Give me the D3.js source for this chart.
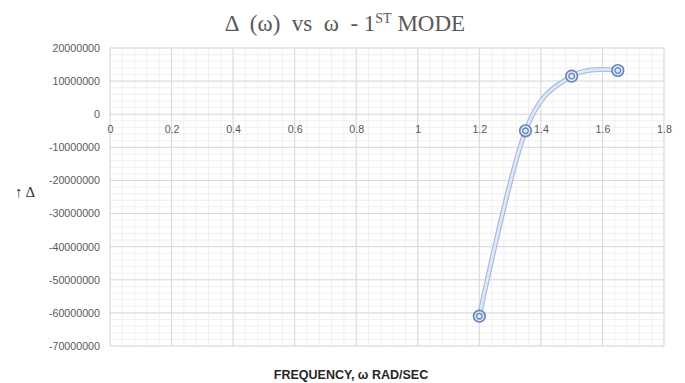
<!DOCTYPE html>
<html>
<head>
<meta charset="utf-8">
<script src="https://cdn.jsdelivr.net/npm/d3@7"></script>
<style>
  body { margin: 0; background: #fff; }
  svg { display: block; }
</style>
</head>
<body>
<svg id="chart"></svg>
<script>
// data
const freq = [1.2, 1.35, 1.5, 1.65];
const delta = [-61000000, -5000000, 11500000, 13200000];
const xTicks = [0, 0.2, 0.4, 0.6, 0.8, 1, 1.2, 1.4, 1.6, 1.8];
const yTicks = [20000000, 10000000, 0, -10000000, -20000000, -30000000, -40000000, -50000000, -60000000, -70000000];

const width = 685, height = 383;
const plot = { left: 110, right: 664, top: 48, bottom: 346 };

const svg = d3.select('#chart')
    .attr('width', width)
    .attr('height', height);

const x = d3.scaleLinear().domain([0, 1.8]).range([plot.left, plot.right]);
const y = d3.scaleLinear().domain([-70000000, 20000000]).range([plot.bottom, plot.top]);

// minor grid
const minorX = d3.range(0, 1.8001, 0.04);
const minorY = d3.range(-70000000, 20000001, 2000000);
svg.append('g')
    .selectAll('line')
    .data(minorX)
    .join('line')
    .attr('x1', d => x(d)).attr('x2', d => x(d))
    .attr('y1', plot.top).attr('y2', plot.bottom)
    .attr('stroke', '#f0f0f0');
svg.append('g')
    .selectAll('line')
    .data(minorY)
    .join('line')
    .attr('x1', plot.left).attr('x2', plot.right)
    .attr('y1', d => y(d)).attr('y2', d => y(d))
    .attr('stroke', '#f0f0f0');

// major grid
svg.append('g')
    .selectAll('line')
    .data(xTicks)
    .join('line')
    .attr('x1', d => x(d)).attr('x2', d => x(d))
    .attr('y1', plot.top).attr('y2', plot.bottom)
    .attr('stroke', '#d9d9d9');
svg.append('g')
    .selectAll('line')
    .data(yTicks)
    .join('line')
    .attr('x1', plot.left).attr('x2', plot.right)
    .attr('y1', d => y(d)).attr('y2', d => y(d))
    .attr('stroke', '#d9d9d9');

// plain hyphen minus like the original
const fmt = d => String(d);

// y axis labels
svg.append('g')
    .attr('transform', `translate(${plot.left}, 0)`)
    .call(d3.axisLeft(y).tickValues(yTicks).tickSize(0).tickPadding(10).tickFormat(fmt))
    .call(g => g.select('.domain').remove())
    .call(g => g.selectAll('text')
        .attr('fill', '#595959')
        .attr('font-family', 'Liberation Sans, Arial, sans-serif')
        .attr('font-size', 10.7));

// x axis labels, crossing at zero
svg.append('g')
    .attr('transform', `translate(0, ${y(0)})`)
    .call(d3.axisBottom(x).tickValues(xTicks).tickSize(0).tickPadding(11).tickFormat(fmt))
    .call(g => g.select('.domain').remove())
    .call(g => g.selectAll('text')
        .attr('fill', '#595959')
        .attr('font-family', 'Liberation Sans, Arial, sans-serif')
        .attr('font-size', 10.7));

// smoothed series
const pts = freq.map((f, i) => [f, delta[i]]);
const line = d3.line()
    .x(d => x(d[0]))
    .y(d => y(d[1]))
    .curve(d3.curveCardinal.tension(0));

svg.append('path')
    .datum(pts)
    .attr('d', line)
    .attr('fill', 'none')
    .attr('stroke', '#aabfe2')
    .attr('stroke-width', 5);
svg.append('path')
    .datum(pts)
    .attr('d', line)
    .attr('fill', 'none')
    .attr('stroke', '#e2e9f5')
    .attr('stroke-width', 2.4);

// markers
const marks = svg.append('g')
    .selectAll('g')
    .data(pts)
    .join('g')
    .attr('transform', d => `translate(${x(d[0])}, ${y(d[1])})`);
marks.append('circle')
    .attr('r', 5.8)
    .attr('fill', '#dfe7f3')
    .attr('stroke', '#6583b8')
    .attr('stroke-width', 1.6);
marks.append('circle')
    .attr('r', 2.8)
    .attr('fill', '#dfe7f3')
    .attr('stroke', '#6583b8')
    .attr('stroke-width', 1.3);

// title
const title = svg.append('text')
    .attr('x', 345)
    .attr('y', 31)
    .attr('text-anchor', 'middle')
    .attr('fill', '#595959')
    .attr('font-family', 'Liberation Serif, DejaVu Serif, serif')
    .attr('font-size', 23)
    .style('white-space', 'pre');
title.append('tspan').text('Δ  (ω)  vs  ω  - 1');
title.append('tspan').attr('font-size', 14).attr('dy', -8).text('ST');
title.append('tspan').attr('dy', 8).text(' MODE');

// y axis title
svg.append('text')
    .attr('x', 15)
    .attr('y', 197)
    .attr('fill', '#333')
    .attr('font-family', 'Liberation Serif, serif')
    .attr('font-size', 15)
    .style('white-space', 'pre')
    .text('↑ Δ');

// x axis title
svg.append('text')
    .attr('x', 351)
    .attr('y', 379)
    .attr('text-anchor', 'middle')
    .attr('fill', '#262626')
    .attr('font-family', 'Liberation Sans, Arial, sans-serif')
    .attr('font-weight', 'bold')
    .attr('font-size', 12.5)
    .text('FREQUENCY, ω RAD/SEC');
</script>
</body>
</html>
